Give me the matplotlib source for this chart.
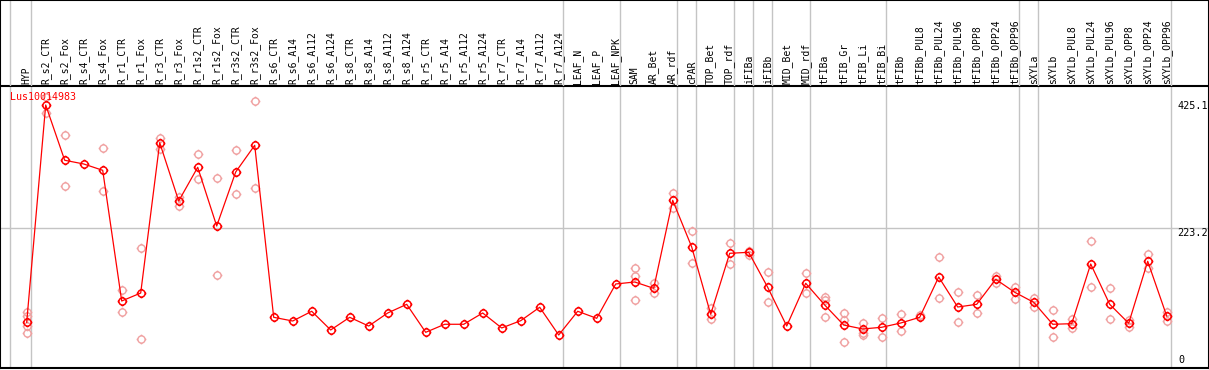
import numpy as np
import matplotlib
matplotlib.use("Agg")
import matplotlib.pyplot as plt
from matplotlib.path import Path

gene = "Lus10014983"

samples = ["HYP", "R_s2_CTR", "R_s2_Fox", "R_s4_CTR", "R_s4_Fox", "R_r1_CTR", "R_r1_Fox",
           "R_r3_CTR", "R_r3_Fox", "R_r1s2_CTR", "R_r1s2_Fox", "R_r3s2_CTR", "R_r3s2_Fox",
           "R_s6_CTR", "R_s6_A14", "R_s6_A112", "R_s6_A124", "R_s8_CTR", "R_s8_A14",
           "R_s8_A112", "R_s8_A124", "R_r5_CTR", "R_r5_A14", "R_r5_A112", "R_r5_A124",
           "R_r7_CTR", "R_r7_A14", "R_r7_A112", "R_r7_A124", "LEAF_N", "LEAF_P", "LEAF_NPK",
           "SAM", "AR_Bet", "AR_rdf", "cPAR", "TOP_Bet", "TOP_rdf", "iFIBa", "iFIBb",
           "MID_Bet", "MID_rdf", "tFIBa", "tFIB_Gr", "tFIB_Li", "tFIB_Bi", "tFIBb",
           "tFIBb_PUL8", "tFIBb_PUL24", "tFIBb_PUL96", "tFIBb_OPP8", "tFIBb_OPP24",
           "tFIBb_OPP96", "sXYLa", "sXYLb", "sXYLb_PUL8", "sXYLb_PUL24", "sXYLb_PUL96",
           "sXYLb_OPP8", "sXYLb_OPP24", "sXYLb_OPP96"]

means = [72.8, 419.2, 331.1, 325.2, 315.1, 106.8, 119.5, 359.1, 266.2, 319.9, 226.3,
         312.4, 355.0, 80.8, 74.9, 90.4, 60.6, 80.8, 66.9, 87.7, 101.5, 56.9, 69.7, 69.7,
         87.7, 63.8, 75.4, 96.8, 52.6, 90.4, 79.2, 133.9, 137.1, 127.0, 267.3, 192.9,
         85.6, 182.8, 184.4, 128.6, 66.9, 135.0, 100.4, 68.5, 62.2, 64.9, 71.7, 80.8,
         145.0, 97.2, 101.5, 141.4, 120.7, 104.7, 69.7, 70.6, 165.8, 101.5, 71.3, 170.1,
         82.9]

replicates = [[89.3, 82.9, 66.9, 55.8], [432.0, 406.4], [371.4, 289.6], [], [350.2, 281.6],
              [123.8, 88.8], [190.8, 46.2], [367.1, 348.6], [273.0, 258.7], [340.6, 300.8],
              [302.4, 147.8], [347.0, 276.9], [425.1, 286.4],
              [], [], [], [], [], [], [], [], [], [], [], [], [], [], [], [], [], [], [],
              [159.4, 146.6, 108.4], [136.0, 119.1], [278.9, 254.5], [218.4, 166.9],
              [95.2, 77.6], [198.8, 165.8], [187.0, 180.1], [153.0, 105.2], [],
              [151.4, 119.5], [112.7, 108.4, 80.8], [87.2, 76.5, 41.0], [72.2, 55.3, 52.6],
              [79.2, 49.9], [86.1, 58.5], [84.0], [176.4, 111.1], [121.1, 72.8],
              [115.9, 88.1], [147.1, 136.0], [129.1, 110.5], [111.6, 97.7], [92.4, 48.9],
              [78.1, 64.2], [201.9, 129.1], [127.0, 77.6], [76.5, 65.8], [181.7, 158.9],
              [89.7, 75.4]]

# last sample of each group (a grey separator follows it)
group_ends = [-1.1, 0, 28, 31, 34, 35, 37, 38, 39, 41, 45, 52, 53, 60]
y_marks = [425.1, 223.2, 0]

W, H = 1209, 370
x0, step = 26.7, 19.0
top_px, bot_px = 85.5, 368.0
px_per_unit = 0.6274

fig = plt.figure(figsize=(W / 100, H / 100), dpi=100)
xlim = (-x0 / step, (W - x0) / step)

ax = fig.add_axes([0, (H - bot_px) / H, 1, (bot_px - top_px) / H])
hd = fig.add_axes([0, (H - top_px) / H, 1, top_px / H])
for a in (ax, hd):
    a.set_xlim(*xlim)
    a.set_xticks([])
    a.set_yticks([])
    a.patch.set_alpha(0)
    for s in a.spines.values():
        s.set_color("black")
        s.set_linewidth(1.5)
ax.set_ylim(0, (bot_px - top_px) / px_per_unit)
hd.set_ylim(0, 1)
hd.spines["bottom"].set_visible(False)

grey = "#c4c4c4"
for g in group_ends:
    ax.axvline(g + 4 / step, color=grey, lw=1.0, zorder=0)
    hd.axvline(g + 4 / step, color=grey, lw=1.0, zorder=0)
ax.axhline(223.2, color=grey, lw=1.0, zorder=0)

# circle with four small ticks
circ = Path.unit_circle()
ticks = Path([(0, 1), (0, 1.35), (0, -1), (0, -1.35), (1, 0), (1.35, 0), (-1, 0), (-1.35, 0)],
             [Path.MOVETO, Path.LINETO] * 4)
marker = Path.make_compound_path(circ, ticks)

xs = np.arange(len(samples))
rx = [i for i, r in enumerate(replicates) for _ in r]
ry = [v for r in replicates for v in r]
ax.plot(rx, ry, ls="none", marker=marker, ms=7, mfc="none", mec="#f0a0a0", mew=1.0, zorder=2)
ax.plot(xs, means, color="red", lw=0.9, zorder=3)
ax.plot(xs, means, ls="none", marker=marker, ms=7, mfc="none", mec="red", mew=1.1, zorder=4)

mono = "DejaVu Sans Mono"
for i, s in enumerate(samples):
    hd.text(i, 0.015, s, rotation=90, ha="center", va="bottom", fontsize=7, family=mono)

ax.text(10 / W, 1 - (92 - top_px) / (bot_px - top_px), gene, transform=ax.transAxes,
        color="red", fontsize=7.2, family=mono, ha="left", va="top")

for v in y_marks:
    if v == 0:
        ax.text(60.6, 4, "0", ha="left", va="bottom", fontsize=7.3, family=mono)
    else:
        ax.text(60.55, v, f"{v:g}", ha="left", va="top", fontsize=7.3, family=mono)

fig.savefig("out.png", dpi=100)
